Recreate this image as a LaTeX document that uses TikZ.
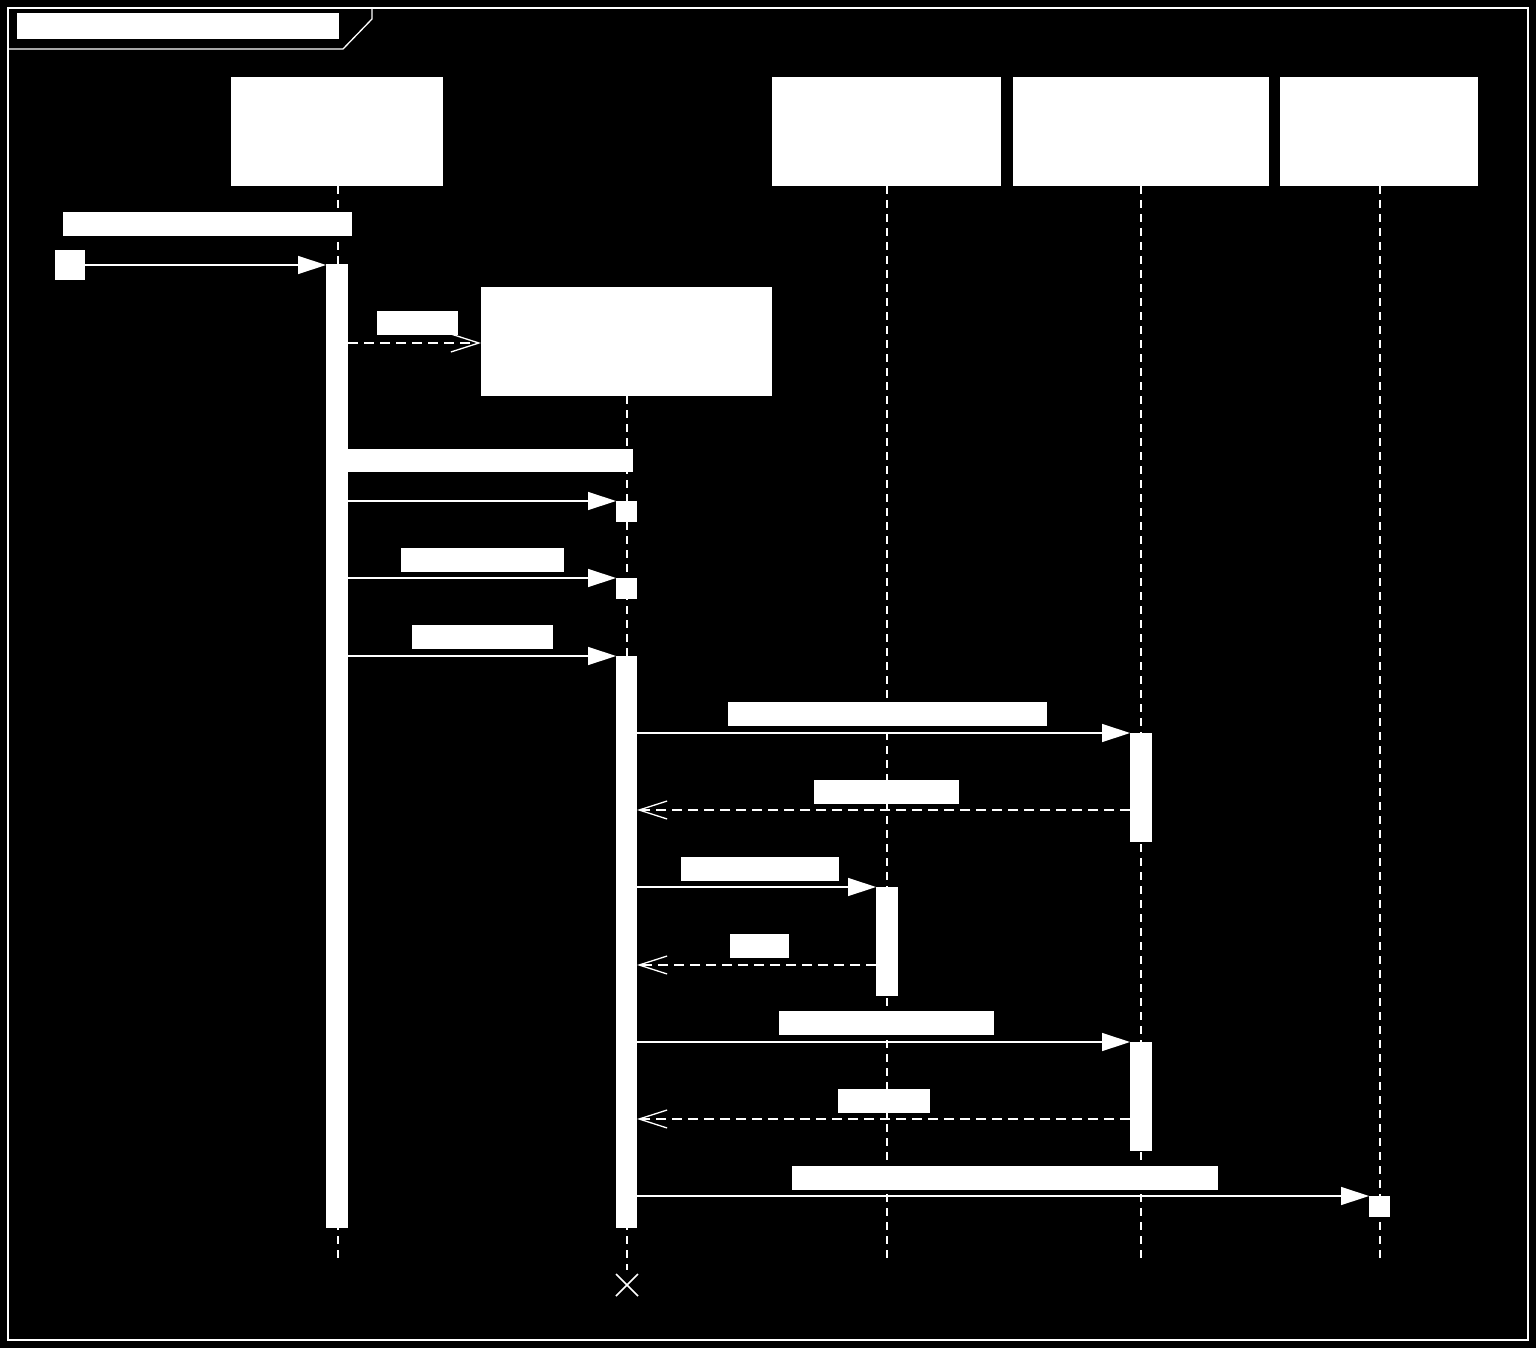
\documentclass[tikz,border=0pt]{standalone}
\usetikzlibrary{arrows.meta}
\begin{document}
\begin{tikzpicture}[x=1pt,y=-1pt,
  box/.style={fill=white,draw=none},
  life/.style={white,line width=1.5pt,dash pattern=on 8pt off 6pt},
  msg/.style={white,line width=1.3pt,-{Triangle[length=28pt,width=18pt]}},
  ret/.style={white,line width=1.3pt,dash pattern=on 10pt off 6pt,-{Straight Barb[length=28pt,width=18pt,line width=1.3pt]}}]
\fill[black] (0,0) rectangle (1536,1348);
\useasboundingbox (0,0) rectangle (1536,1348);
\draw[white,line width=1.3pt] (8,8) rectangle (1528,1340);
\draw[white,line width=1.3pt] (8,49) -- (343,49) -- (372,19) -- (372,8);
\fill[box] (17,13) rectangle (339,39);
% heads
\fill[box] (231,77) rectangle (443,186); \coordinate (A) at (338,186);
\fill[box] (481,287) rectangle (772,396); \coordinate (C) at (627,396);
\fill[box] (772,77) rectangle (1001,186); \coordinate (D) at (887,186);
\fill[box] (1013,77) rectangle (1269,186); \coordinate (E) at (1141,186);
\fill[box] (1280,77) rectangle (1478,186); \coordinate (F) at (1380,186);
\coordinate (Ae) at (338,1262); \coordinate (Ce) at (627,1270);
\coordinate (De) at (887,1262); \coordinate (Ee) at (1141,1262); \coordinate (Fe) at (1380,1262);
\draw[life] (A) -- (Ae); \draw[life] (C) -- (Ce); \draw[life] (D) -- (De);
\draw[life] (E) -- (Ee); \draw[life] (F) -- (Fe);
% activations
\fill[box] (326,264) rectangle (348,1228);
\fill[box] (616,501) rectangle (637,522);
\fill[box] (616,578) rectangle (637,599);
\fill[box] (616,656) rectangle (637,1228);
\fill[box] (1130,733) rectangle (1152,842);
\fill[box] (1130,1042) rectangle (1152,1151);
\fill[box] (876,887) rectangle (898,996);
\fill[box] (1369,1196) rectangle (1390,1217);
% found message
\fill[box] (55,250) rectangle (85,280);
\fill[box] (63,212) rectangle (352,236);
\draw[msg] (85,265) -- (326,265);
% create
\fill[box] (377,311) rectangle (458,335);
\draw[ret] (348,343) -- (481,343);
% messages
\fill[box] (348,449) rectangle (633,472);
\draw[msg] (348,501) -- (616,501);
\fill[box] (401,548) rectangle (564,572);
\draw[msg] (348,578) -- (616,578);
\fill[box] (412,625) rectangle (553,649);
\draw[msg] (348,656) -- (616,656);
\fill[box] (728,702) rectangle (1047,726);
\draw[msg] (637,733) -- (1130,733);
\fill[box] (814,780) rectangle (959,804);
\draw[ret] (1130,810) -- (637,810);
\fill[box] (681,857) rectangle (839,881);
\draw[msg] (637,887) -- (876,887);
\fill[box] (730,934) rectangle (789,958);
\draw[ret] (876,965) -- (637,965);
\fill[box] (779,1011) rectangle (994,1035);
\draw[msg] (637,1042) -- (1130,1042);
\fill[box] (838,1089) rectangle (930,1113);
\draw[ret] (1130,1119) -- (637,1119);
\fill[box] (792,1166) rectangle (1218,1190);
\draw[msg] (637,1196) -- (1369,1196);
% destroy
\draw[white,line width=1.5pt] (616,1274) -- (638,1296) (616,1296) -- (638,1274);
\end{tikzpicture}
\end{document}
